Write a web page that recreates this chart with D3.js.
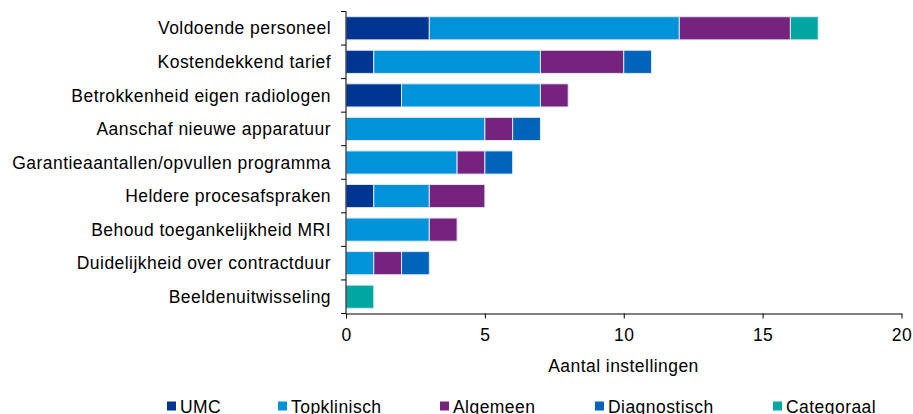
<!DOCTYPE html>
<html><head><meta charset="utf-8">
<script src="https://cdn.jsdelivr.net/npm/d3@7"></script>
<style>body{margin:0;background:#fff}svg{font-family:"Liberation Sans",Arial,sans-serif}svg text{letter-spacing:0.45px}</style>
</head><body><svg id="c" width="913" height="414"></svg>
<script>
const categories = ["Voldoende personeel","Kostendekkend tarief","Betrokkenheid eigen radiologen","Aanschaf nieuwe apparatuur","Garantieaantallen/opvullen programma","Heldere procesafspraken","Behoud toegankelijkheid MRI","Duidelijkheid over contractduur","Beeldenuitwisseling"];
const seriesNames = ["UMC","Topklinisch","Algemeen","Diagnostisch","Categoraal"];
const UMC =          [3,1,2,0,0,1,0,0,0];
const Topklinisch =  [9,6,5,5,4,2,3,1,0];
const Algemeen =     [4,3,1,1,1,2,1,1,0];
const Diagnostisch = [0,1,0,1,1,0,0,1,0];
const Categoraal =   [1,0,0,0,0,0,0,0,1];
const colors = ["#003591","#0093D9","#76227F","#0064BA","#00A7A1"];
const xTicks = [0,5,10,15,20];
const xTitle = "Aantal instellingen";

const seriesVals = [UMC,Topklinisch,Algemeen,Diagnostisch,Categoraal];
const rows = categories.map((c,i)=>{const o={cat:c};seriesNames.forEach((s,j)=>o[s]=seriesVals[j][i]);return o;});
const stack = d3.stack().keys(seriesNames)(rows);

const FS = 17.5;
const svg = d3.select("#c");
const pL=346, pR=901.5, pT=11.5, pB=313.5;
const x = d3.scaleLinear().domain([0,20]).range([pL,pR]);
const y = d3.scaleBand().domain(categories).range([pT,pB]).paddingInner(0.31).paddingOuter(0.155);

stack.forEach((layer,j)=>{
  svg.append("g").selectAll("rect").data(layer.filter(d=>d[1]-d[0]>0)).join("rect")
    .attr("x",d=>x(d[0])).attr("width",d=>x(d[1])-x(d[0]))
    .attr("y",d=>y(d.data.cat)).attr("height",y.bandwidth())
    .attr("fill",colors[j]).attr("stroke","#dfeaf5").attr("stroke-width",1);
});

const yAx = svg.append("g");
yAx.append("line").attr("x1",pL).attr("x2",pL).attr("y1",pT).attr("y2",pB).attr("stroke","#000").attr("stroke-width",1);
const step = (pB-pT)/categories.length;
d3.range(categories.length+1).forEach(i=>{
  yAx.append("line").attr("x1",pL-5).attr("x2",pL).attr("y1",pT+i*step).attr("y2",pT+i*step).attr("stroke","#000");
});
categories.forEach(c=>{
  yAx.append("text").attr("x",331).attr("y",y(c)+y.bandwidth()/2).attr("dy","0.35em")
    .attr("text-anchor","end").attr("font-size",FS).attr("fill","#000").text(c);
});

const xg = svg.append("g").attr("transform",`translate(0,${pB})`)
  .call(d3.axisBottom(x).tickValues(xTicks).tickSize(5).tickSizeOuter(0).tickPadding(10.5));
xg.select(".domain").attr("stroke","#000");
xg.selectAll(".tick line").attr("stroke","#000");
xg.selectAll("text").attr("font-size",FS).attr("fill","#000").attr("font-family","Liberation Sans, Arial, sans-serif");

svg.append("text").attr("x",623.5).attr("y",372).attr("text-anchor","middle").attr("font-size",FS).text(xTitle);

const legX = [167,278,440,595,773];
seriesNames.forEach((s,j)=>{
  const g = svg.append("g").attr("transform",`translate(${legX[j]},0)`);
  g.append("rect").attr("x",0).attr("y",401.5).attr("width",9).attr("height",9).attr("fill",colors[j]);
  g.append("text").attr("x",13).attr("y",412.5).attr("font-size",FS).text(s);
});
</script></body></html>
